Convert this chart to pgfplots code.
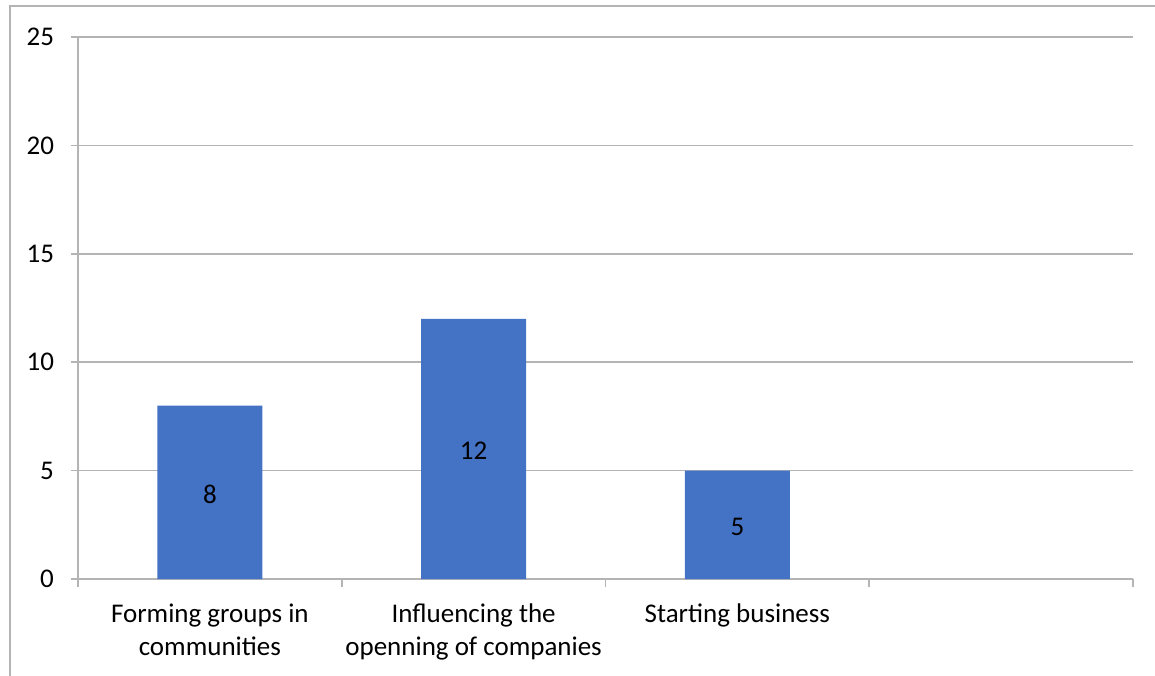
\documentclass[border=0pt]{standalone}
\usepackage{pgfplots}
\pgfplotsset{compat=1.18}
\usepackage{fontspec}
\setmainfont{Carlito}
\definecolor{barblue}{HTML}{4472C4}
\definecolor{gridgray}{HTML}{B4B4B4}
\begin{document}
\begin{tikzpicture}[x=1pt,y=1pt]
\path[use as bounding box] (0,0) rectangle (577.5,337.5);
\draw[gridgray, line width=0.8pt] (5,-5) -- (5,334.5) -- (590,334.5);
\begin{axis}[
  at={(39pt,48pt)}, anchor=south west,
  scale only axis, width=527.5pt, height=271pt,
  xmin=-0.5, xmax=3.5, ymin=0, ymax=25,
  ytick={0,5,...,25},
  xtick={0,1,2,3},
  xticklabels={{Forming groups in\\communities},{Influencing the\\openning of companies},{Starting business},{}},
  minor xtick={-0.5,0.5,1.5,2.5,3.5},
  major x tick style={draw=none},
  minor x tick style={draw=gridgray, line width=0.8pt},
  minor tick length=4pt,
  major tick length=3.5pt,
  ytick style={draw=gridgray, line width=0.8pt},
  tick align=outside,
  axis x line*=bottom, axis y line*=left,
  axis line style={-, draw=gridgray, line width=0.8pt},
  ymajorgrids, grid style={draw=gridgray, line width=0.8pt},
  /pgf/number format/assume math mode=true,
  tick label style={font=\fontsize{13.5}{16.5}\selectfont, text=black},
  xticklabel style={align=center, yshift=-5.5pt},
  yticklabel style={xshift=-5pt},
  ybar, bar width=52.5pt, bar shift=0pt,
  nodes near coords,
  visualization depends on={0.5*rawy \as \hy},
  every node near coord/.append style={anchor=center, font=\fontsize{13.5}{16.5}\selectfont, text=black, shift={(axis direction cs:0,-\hy)}, yshift=-1pt},
]
\addplot[fill=barblue, draw=none] coordinates {(0,8) (1,12) (2,5)};
\end{axis}
\end{tikzpicture}
\end{document}
